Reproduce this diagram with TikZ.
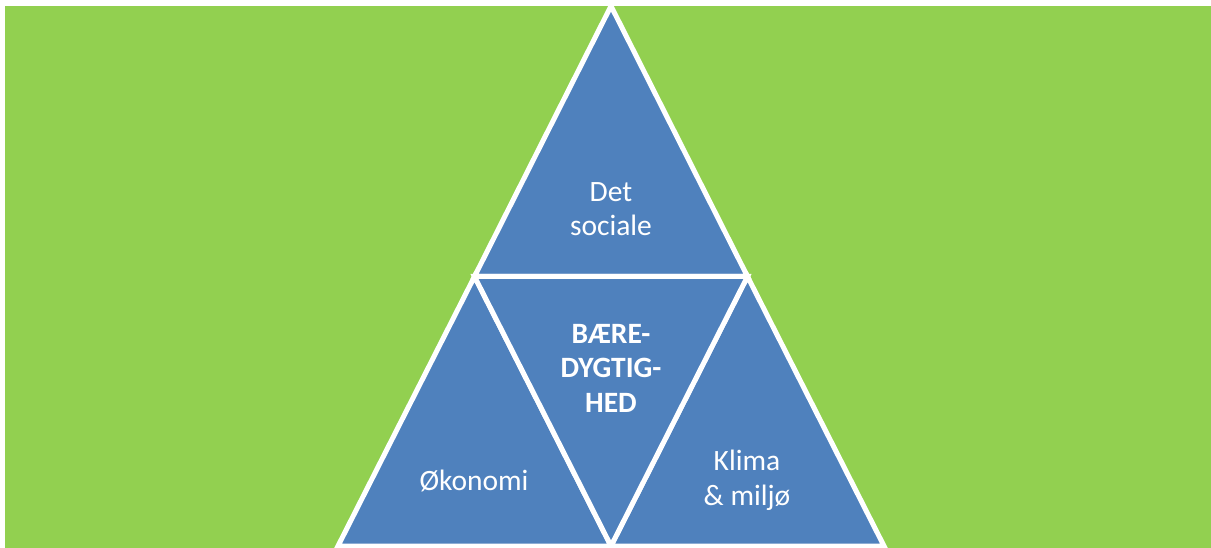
\documentclass[tikz,border=0pt]{standalone}
\usepackage{fontspec}
\setmainfont{Carlito}
\definecolor{bggreen}{HTML}{92D050}
\definecolor{triblue}{HTML}{4F81BD}
\begin{document}
\begin{tikzpicture}[x=1pt,y=-1pt,
  tri/.style={fill=triblue,draw=white,line width=5pt,line join=miter},
  lbl/.style={text=white,align=center,font=\fontsize{29.5}{34.5}\selectfont,inner sep=0pt}]
\useasboundingbox (0,0) rectangle (1211,548);
\clip (0,0) rectangle (1211,548);
\fill[white] (0,0) rectangle (1211,548);
\fill[bggreen] (5,6) rectangle (1211,548);
\coordinate (A) at (611,6);
\coordinate (L) at (338,546);
\coordinate (R) at (884,546);
\coordinate (ML) at (474.5,276.5);
\coordinate (MR) at (747.5,276.5);
\coordinate (MB) at (611,546);
\draw[tri] (A) -- (ML) -- (MR) -- cycle;
\draw[tri] (ML) -- (L) -- (MB) -- cycle;
\draw[tri] (MR) -- (MB) -- (R) -- cycle;
\draw[tri] (ML) -- (MR) -- (MB) -- cycle;
\node[lbl] (top) at (611,209) {Det\\sociale};
\node[lbl,font=\fontsize{29.5}{34.5}\selectfont\bfseries] (mid) at (611,368) {BÆRE-\\DYGTIG-\\HED};
\node[lbl] (left) at (474,481) {Økonomi};
\node[lbl] (right) at (747,480.5) {Klima\\\& miljø};
\end{tikzpicture}
\end{document}
